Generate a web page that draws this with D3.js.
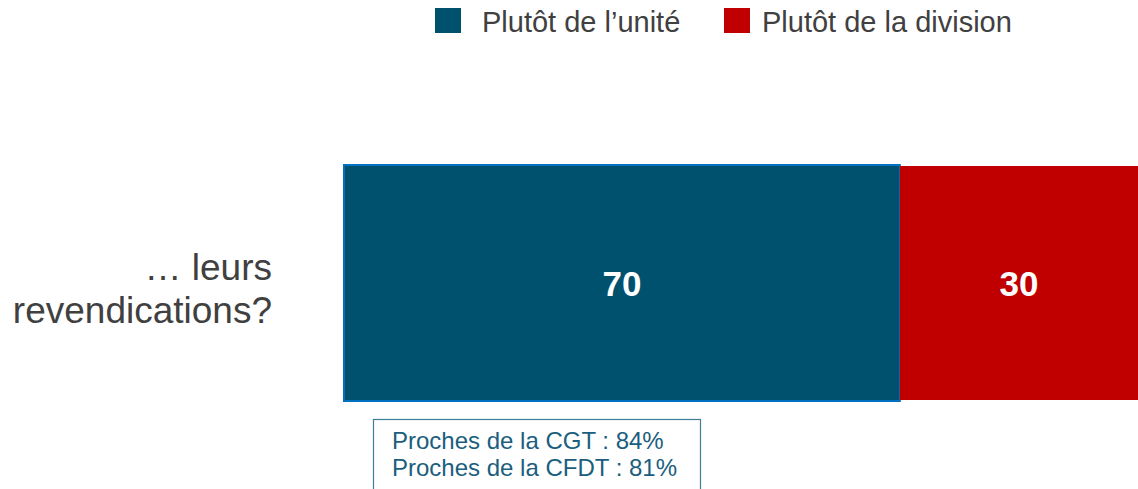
<!DOCTYPE html>
<html lang="fr">
<head>
<meta charset="UTF-8">
<title>Unité ou division</title>
<script src="https://d3js.org/d3.v7.min.js"></script>
<style>
  body { margin: 0; background: #fff; }
  svg { display: block; font-family: "Liberation Sans", Arial, sans-serif; }
  .legend-text { font-size: 29px; fill: #404040; }
  .cat-label { font-size: 37px; fill: #404040; text-anchor: end; }
  .value-label { font-size: 35px; font-weight: bold; fill: #fff; text-anchor: middle; }
  .note { font-size: 24px; fill: #1b5e7d; }
</style>
</head>
<body>
<div id="chart"></div>
<script>
const categories = ["… leurs revendications?"];
const seriesNames = ["Plutôt de l’unité", "Plutôt de la division"];
const seriesValues = [[70], [30]];
const seriesColors = ["#00516e", "#c00000"];
const noteLines = ["Proches de la CGT : 84%", "Proches de la CFDT : 81%"];

const width = 1138, height = 489;
const svg = d3.select("#chart").append("svg")
    .attr("width", width)
    .attr("height", height);

const x = d3.scaleLinear().domain([0, 100]).range([344, 1138]);
const y = d3.scaleBand().domain(categories).range([165, 401]).padding(0);

// stack the two series
const rows = categories.map((c, i) => {
    let acc = 0;
    return seriesValues.map((vals, s) => {
        const seg = { cat: c, s: s, x0: acc, x1: acc + vals[i], v: vals[i] };
        acc += vals[i];
        return seg;
    });
}).flat();

svg.append("g").selectAll("rect")
    .data(rows)
    .enter().append("rect")
    .attr("x", d => x(d.x0))
    .attr("y", d => y(d.cat) + (d.s === 0 ? 0 : 1))
    .attr("width", d => x(d.x1) - x(d.x0))
    .attr("height", d => y.bandwidth() - (d.s === 0 ? 0 : 2))
    .attr("fill", d => seriesColors[d.s])
    .attr("stroke", d => d.s === 0 ? "#0070c0" : "none")
    .attr("stroke-width", 2);

svg.append("g").selectAll("text")
    .data(rows)
    .enter().append("text")
    .attr("class", "value-label")
    .attr("x", d => (x(d.x0) + x(d.x1)) / 2)
    .attr("y", d => y(d.cat) + y.bandwidth() / 2 + 13)
    .text(d => d.v);

// category label (two lines)
const catText = svg.append("text")
    .attr("class", "cat-label")
    .attr("x", 272)
    .attr("y", 280);
catText.append("tspan").attr("x", 272).text("… leurs");
catText.append("tspan").attr("x", 272).attr("dy", 43).text("revendications?");

// legend
const legendX = [435, 724];
const legendTextX = [47, 38];
const legend = svg.append("g").selectAll("g")
    .data(seriesNames)
    .enter().append("g")
    .attr("transform", (d, i) => `translate(${legendX[i]}, 8)`);
legend.append("rect")
    .attr("width", 26).attr("height", 25)
    .attr("fill", (d, i) => seriesColors[i]);
legend.append("text")
    .attr("class", "legend-text")
    .attr("x", (d, i) => legendTextX[i]).attr("y", 24)
    .text(d => d);

// note box
svg.append("rect")
    .attr("x", 373.5).attr("y", 419.5)
    .attr("width", 327).attr("height", 80)
    .attr("fill", "#fff")
    .attr("stroke", "#3d7f96")
    .attr("stroke-width", 1.2);
svg.append("g").selectAll("text")
    .data(noteLines)
    .enter().append("text")
    .attr("class", "note")
    .attr("x", 392)
    .attr("y", (d, i) => 449 + i * 27)
    .text(d => d);
</script>
</body>
</html>
